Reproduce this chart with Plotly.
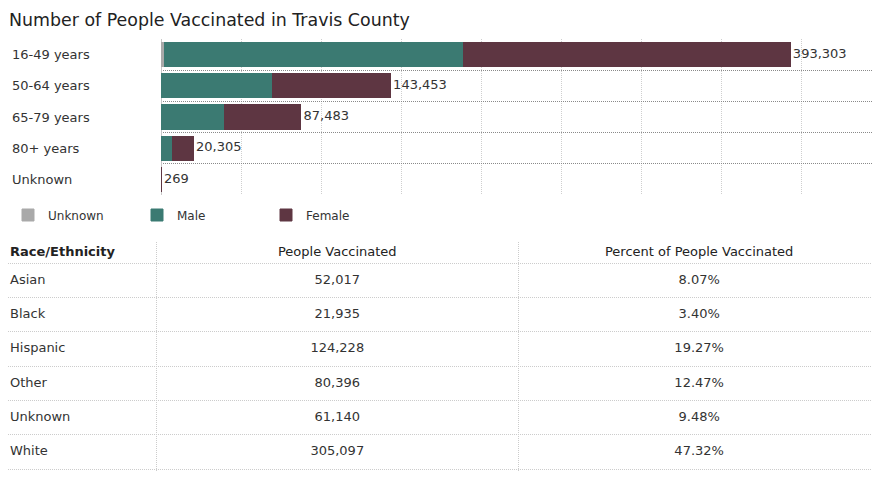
import plotly.graph_objects as go

# ---------------- data ----------------
age_groups = ["16-49 years", "50-64 years", "65-79 years", "80+ years", "Unknown"]
unknown_sex = [2300, 300, 0, 0, 19]
male = [187000, 69200, 39400, 7100, 140]
female = [204003, 73953, 48083, 13205, 110]

races = ["Asian", "Black", "Hispanic", "Other", "Unknown", "White"]
people_vaccinated = [52017, 21935, 124228, 80396, 61140, 305097]
percent_vaccinated = [8.07, 3.40, 19.27, 12.47, 9.48, 47.32]
table_headers = ["Race/Ethnicity", "People Vaccinated", "Percent of People Vaccinated"]

# ---------------- style ----------------
OFF = 8                      # page body margin
W, H = 880 - OFF, 484 - OFF  # figure size


def px_x(x):
    return (x - OFF) / W


def px_y(y):
    return 1 - (y - OFF) / H


FONT = "DejaVu Sans"
TXT = "#333333"
C_UNK, C_MALE, C_FEM = "#a9a9a9", "#3b7a72", "#5e3642"
DOT = "1px,1px"

totals = [u + m + f for u, m, f in zip(unknown_sex, male, female)]

fig = go.Figure()
for name, vals, col in [("Unknown", unknown_sex, C_UNK), ("Male", male, C_MALE), ("Female", female, C_FEM)]:
    fig.add_trace(go.Bar(
        y=age_groups, x=vals, name=name, orientation="h",
        marker=dict(color=col, line=dict(color=col, width=1)),
        xaxis="x", yaxis="y", hoverinfo="x+name",
    ))

fig.add_trace(go.Scatter(
    y=age_groups, x=totals, mode="text",
    text=[f"\u2009{t:,}" for t in totals], textposition="middle right",
    textfont=dict(family=FONT, size=13, color=TXT),
    showlegend=False, xaxis="x", yaxis="y", hoverinfo="skip",
))

# ---------------- table as text on a cartesian grid ----------------
col_edges = [0.0, px_x(156.3), px_x(518.3), 1.0]
row_pos = list(range(len(races)))[::-1]   # first race on top
header_pos = len(races) - 0.5 + 0.31

col0_x = px_x(10)
col1_x = (col_edges[1] + col_edges[2]) / 2
col2_x = (col_edges[2] + col_edges[3]) / 2

fig.add_trace(go.Scatter(
    x=[col0_x] * len(races), y=row_pos, mode="text", text=races,
    textposition="middle right", textfont=dict(family=FONT, size=13, color=TXT),
    showlegend=False, xaxis="x2", yaxis="y2", hoverinfo="skip",
))
fig.add_trace(go.Scatter(
    x=[col1_x] * len(races), y=row_pos, mode="text",
    text=[f"{v:,}" for v in people_vaccinated],
    textposition="middle center", textfont=dict(family=FONT, size=13, color=TXT),
    showlegend=False, xaxis="x2", yaxis="y2", hoverinfo="skip",
))
fig.add_trace(go.Scatter(
    x=[col2_x] * len(races), y=row_pos, mode="text",
    text=[f"{p:.2f}%" for p in percent_vaccinated],
    textposition="middle center", textfont=dict(family=FONT, size=13, color=TXT),
    showlegend=False, xaxis="x2", yaxis="y2", hoverinfo="skip",
))
fig.add_trace(go.Scatter(
    x=[col0_x, col1_x, col2_x], y=[header_pos] * 3, mode="text",
    text=["<b>" + table_headers[0] + "</b>", table_headers[1], table_headers[2]],
    textposition=["middle right", "middle center", "middle center"],
    textfont=dict(family=FONT, size=13, color="#222222"),
    showlegend=False, xaxis="x2", yaxis="y2", hoverinfo="skip",
))

# age labels, left aligned
for g in age_groups:
    fig.add_annotation(
        x=px_x(10), xref="paper", y=g, yref="y", text=g, showarrow=False,
        xanchor="left", yanchor="middle", font=dict(family=FONT, size=13, color=TXT),
    )

row_unit = 34.33
top_px, bot_px = 242, 471.3
fig.update_layout(
    width=W, height=H,
    margin=dict(l=0, r=0, t=0, b=0),
    paper_bgcolor="white", plot_bgcolor="white",
    font=dict(family=FONT, size=13, color=TXT),
    barmode="stack", bargap=0.23,
    title=dict(text="Number of People Vaccinated in Travis County",
               x=px_x(9), xanchor="left", y=px_y(20), yanchor="middle",
               font=dict(family=FONT, size=17.4, color="#222222")),
    legend=dict(orientation="h", x=0.0, xanchor="left", y=px_y(215), yanchor="middle",
                entrywidth=84, font=dict(family=FONT, size=12, color=TXT),
                traceorder="normal"),
    xaxis=dict(domain=[px_x(161), 1.0], range=[0, 450000 * (880 - 161) / 720], dtick=50000,
               showticklabels=False, showgrid=True, gridcolor="#cfcfcf", griddash=DOT,
               zeroline=True, zerolinecolor="#c8c8c8", zerolinewidth=1,
               showline=False, anchor="y", fixedrange=True),
    yaxis=dict(domain=[px_y(195), px_y(39)], type="category",
               categoryorder="array", categoryarray=age_groups,
               autorange="reversed", tickson="boundaries",
               showticklabels=False, ticks="", showgrid=True,
               gridcolor="#8a8a8a", griddash=DOT, anchor="x", fixedrange=True),
    xaxis2=dict(domain=[0, 1], range=[0, 1], tickvals=col_edges[1:3],
                showticklabels=False, showgrid=True, gridcolor="#cccccc", griddash=DOT,
                zeroline=False, anchor="y2", fixedrange=True),
    yaxis2=dict(domain=[px_y(bot_px), px_y(top_px)],
                range=[-0.5 - (bot_px - 469.3) / row_unit, len(races) - 0.5 + 21.3 / row_unit],
                tickvals=[i - 0.5 for i in range(len(races) + 1)],
                showticklabels=False, showgrid=True, gridcolor="#cccccc", griddash=DOT,
                zeroline=False, anchor="x2", fixedrange=True),
)

fig.write_html("out.html")
